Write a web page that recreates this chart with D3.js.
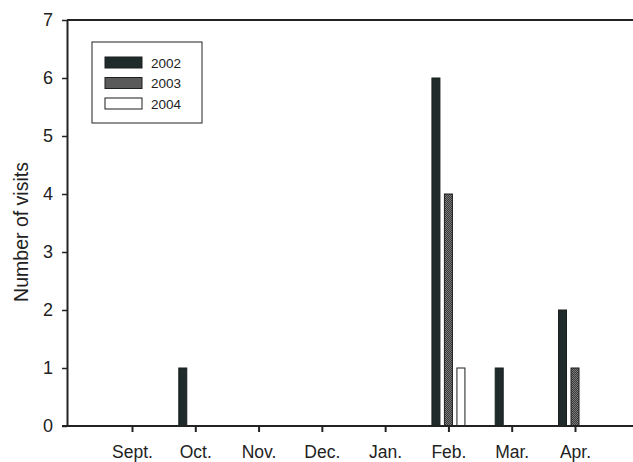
<!DOCTYPE html>
<html>
<head>
<meta charset="utf-8">
<script src="https://cdn.jsdelivr.net/npm/d3@7"></script>
<style>
  body { margin: 0; background: #fff; }
  text { font-family: "Liberation Sans", Arial, sans-serif; fill: #222; }
</style>
</head>
<body>
<script>
const months = ["Sept.", "Oct.", "Nov.", "Dec.", "Jan.", "Feb.", "Mar.", "Apr."];
const years = ["2002", "2003", "2004"];
const visits2002 = [0, 1, 0, 0, 0, 6, 1, 2];
const visits2003 = [0, 0, 0, 0, 0, 4, 0, 1];
const visits2004 = [0, 0, 0, 0, 0, 1, 0, 0];
const yTicks = [0, 1, 2, 3, 4, 5, 6, 7];

const margin = {top: 20, right: 0, bottom: 36, left: 67},
    width = 633 - margin.left - margin.right,
    height = 462 - margin.top - margin.bottom;

const svgRoot = d3.select("body")
  .append("svg")
  .attr("width", 633)
  .attr("height", 462);

// stippled grey fill for 2003
const pat = svgRoot.append("defs").append("pattern")
  .attr("id", "stipple")
  .attr("width", 2).attr("height", 2)
  .attr("patternUnits", "userSpaceOnUse");
pat.append("rect").attr("width", 2).attr("height", 2).attr("fill", "#7a7a7a");
pat.append("rect").attr("width", 1).attr("height", 1).attr("fill", "#3a3a3a");
pat.append("rect").attr("x", 1).attr("y", 1).attr("width", 1).attr("height", 1).attr("fill", "#3a3a3a");

const fills = {"2002": "#1f2b2a", "2003": "url(#stipple)", "2004": "#fff"};

const svg = svgRoot.append("g")
  .attr("transform", `translate(${margin.left},${margin.top})`);

const x = d3.scalePoint()
  .domain(months)
  .range([65, 508]);

const xSub = d3.scaleBand()
  .domain(years)
  .range([-16.5, 16.5])
  .paddingInner(0.36);

const y = d3.scaleLinear()
  .domain([0, 7])
  .range([height, 0]);

const series = [visits2002, visits2003, visits2004];
const bars = [];
series.forEach((vals, i) => {
  vals.forEach((v, j) => {
    if (v > 0) bars.push({month: months[j], year: years[i], value: v});
  });
});

svg.selectAll("rect.bar")
  .data(bars)
  .enter()
  .append("rect")
  .attr("class", "bar")
  .attr("x", d => x(d.month) + xSub(d.year))
  .attr("y", d => y(d.value))
  .attr("width", xSub.bandwidth())
  .attr("height", d => y(0) - y(d.value))
  .attr("fill", d => fills[d.year])
  .attr("stroke", "#1a1f1f")
  .attr("stroke-width", 1);

// axes
const yAxis = svg.append("g")
  .call(d3.axisLeft(y).tickValues(yTicks).tickFormat(d3.format("d"))
    .tickSize(5).tickPadding(9).tickSizeOuter(0));
yAxis.select(".domain").attr("stroke", "#222").attr("stroke-width", 2);
yAxis.selectAll(".tick line").attr("stroke", "#222").attr("stroke-width", 1.5);
yAxis.selectAll("text").style("font-size", "18px").style("font-family", "Liberation Sans, Arial, sans-serif").attr("fill", "#222");

const xAxis = svg.append("g")
  .attr("transform", `translate(0,${height})`)
  .call(d3.axisBottom(x).tickSize(6).tickPadding(14));
xAxis.select(".domain").remove();
xAxis.selectAll(".tick line").attr("stroke", "#222").attr("stroke-width", 2);
xAxis.selectAll("text").style("font-size", "17.5px").style("font-family", "Liberation Sans, Arial, sans-serif").attr("fill", "#222");

svg.append("line")
  .attr("x1", -5).attr("x2", width)
  .attr("y1", y(0)).attr("y2", y(0))
  .attr("stroke", "#222").attr("stroke-width", 2);

svg.append("line")
  .attr("x1", 0).attr("x2", width)
  .attr("y1", y(7)).attr("y2", y(7))
  .attr("stroke", "#222").attr("stroke-width", 2);

// y title
svg.append("text")
  .attr("transform", "rotate(-90)")
  .attr("x", -(232 - margin.top))
  .attr("y", 28 - margin.left)
  .attr("text-anchor", "middle")
  .style("font-size", "19.5px")
  .text("Number of visits");

// legend
const legend = svg.append("g")
  .attr("transform", `translate(${92 - margin.left},${42 - margin.top})`);
legend.append("rect")
  .attr("width", 110).attr("height", 81)
  .attr("fill", "#fff").attr("stroke", "#222").attr("stroke-width", 1);
const items = legend.selectAll("g.item")
  .data(years)
  .enter()
  .append("g")
  .attr("class", "item")
  .attr("transform", (d, i) => `translate(13,${15 + i * 20.5})`);
items.append("rect")
  .attr("width", 37).attr("height", 11)
  .attr("fill", d => fills[d])
  .attr("stroke", "#1a1f1f").attr("stroke-width", 1);
items.append("text")
  .attr("x", 46).attr("y", 6)
  .attr("dy", "0.35em")
  .style("font-size", "13.5px")
  .text(d => d);
</script>
</body>
</html>
